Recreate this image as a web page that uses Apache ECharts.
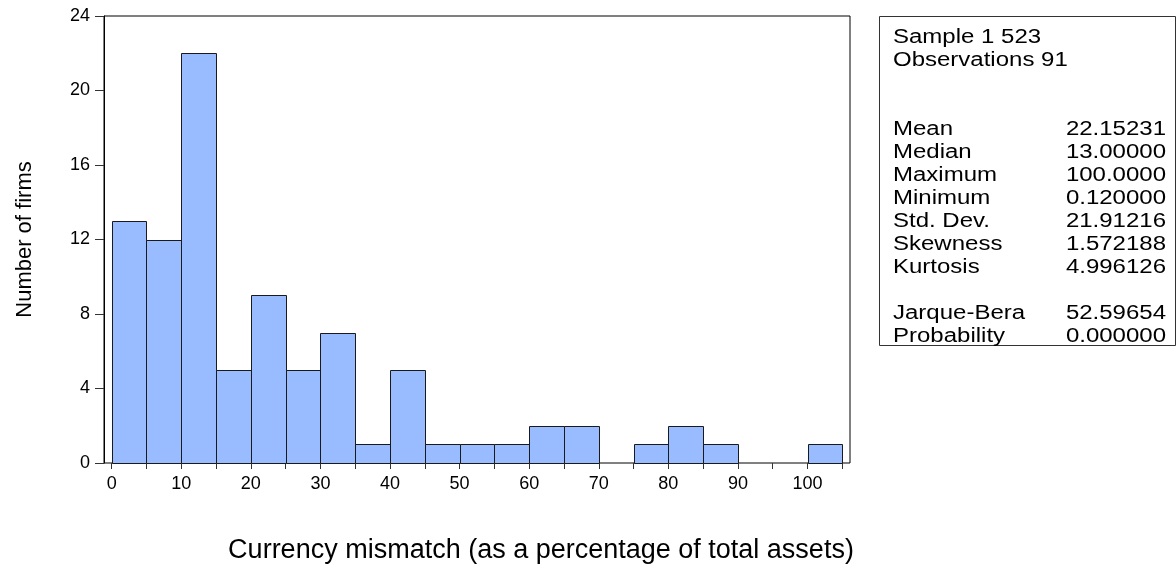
<!DOCTYPE html>
<html>
<head>
<meta charset="utf-8">
<script src="https://cdn.jsdelivr.net/npm/echarts@6/dist/echarts.min.js"></script>
<style>
html,body{margin:0;padding:0;background:#fff;}
#chart{width:1176px;height:571px;}
</style>
</head>
<body>
<div id="chart"></div>
<script>
// ---- data ----
const binStarts = [0,5,10,15,20,25,30,35,40,45,50,55,60,65,70,75,80,85,90,95,100];
const binWidth = 5;
const counts = [13,12,22,5,9,5,7,1,5,1,1,1,2,2,0,1,2,1,0,0,1];
const yTicks = [0,4,8,12,16,20,24];
const xLabelTicks = [0,10,20,30,40,50,60,70,80,90,100];
const headerLines = ['Sample 1 523', 'Observations 91'];
const statLabels = ['Mean','Median','Maximum','Minimum','Std. Dev.','Skewness','Kurtosis'];
const statValues = ['22.15231','13.00000','100.0000','0.120000','21.91216','1.572188','4.996126'];
const testLabels = ['Jarque-Bera','Probability'];
const testValues = ['52.59654','0.000000'];
const xTitle = 'Currency mismatch (as a percentage of total assets)';
const yTitle = 'Number of firms';

const histData = binStarts.map((s, i) => [s, s + binWidth, counts[i]]).filter(d => d[2] > 0);

const FONT = 'Liberation Sans, Arial, sans-serif';
const SX = 1.2;
const FS = 20;

const graphics = [];
graphics.push({type:'rect', left:879, top:16, shape:{width:296, height:329},
  style:{fill:'#fff', stroke:'#333', lineWidth:1}, z:1});
function addText(str, x, y, align){
  graphics.push({type:'text', x:x, y:y, scaleX:SX, scaleY:1, z:2,
    style:{text:str, fill:'#000', font: FS + 'px ' + FONT, textAlign:align, textVerticalAlign:'middle'}});
}
const LX = 893, RX = 1166, LH = 23, Y0 = 37;
headerLines.forEach((t,i) => addText(t, LX, Y0 + i*LH, 'left'));
statLabels.forEach((t,i) => { addText(t, LX, Y0 + (4+i)*LH, 'left'); addText(statValues[i], RX, Y0 + (4+i)*LH, 'right'); });
testLabels.forEach((t,i) => { addText(t, LX, Y0 + (12+i)*LH, 'left'); addText(testValues[i], RX, Y0 + (12+i)*LH, 'right'); });
graphics.push({type:'text', x:541, y:551, z:2,
  style:{text:xTitle, fill:'#000', font:'27px ' + FONT, textAlign:'center', textVerticalAlign:'middle'}});

const chart = echarts.init(document.getElementById('chart'), null, {renderer:'canvas'});
chart.setOption({
  animation:false,
  backgroundColor:'#fff',
  textStyle:{fontFamily:FONT},
  grid:[
    {left:104, right:326, top:16, bottom:108, show:true, borderColor:'#000', borderWidth:1, backgroundColor:'transparent'},
    {left:111.7, right:333.7, top:16, bottom:108}
  ],
  xAxis:[
    {gridIndex:0, type:'value', min:0, max:1, show:false},
    {gridIndex:1, type:'value', min:0, max:105, interval:5,
     axisLine:{show:false},
     axisTick:{show:true, length:6, inside:false, lineStyle:{color:'#333', width:1}},
     axisLabel:{fontSize:18, color:'#000', margin:12, fontFamily:FONT,
       formatter: v => xLabelTicks.indexOf(v) >= 0 ? String(v) : ''},
     splitLine:{show:false}}
  ],
  yAxis:[
    {gridIndex:0, type:'value', min:yTicks[0], max:yTicks[yTicks.length-1], interval:4,
     axisLine:{show:true, lineStyle:{color:'#000', width:1}},
     axisTick:{show:true, length:9, inside:false, lineStyle:{color:'#333'}},
     axisLabel:{fontSize:18, color:'#000', margin:14, fontFamily:FONT},
     splitLine:{show:false},
     name:yTitle, nameLocation:'middle', nameGap:68, nameRotate:90,
     nameTextStyle:{fontSize:22, color:'#000', fontFamily:FONT}},
    {gridIndex:1, type:'value', min:0, max:24, show:false}
  ],
  series:[{
    type:'custom', xAxisIndex:1, yAxisIndex:1,
    data: histData,
    renderItem: function(params, api){
      const p0 = api.coord([api.value(0), 0]);
      const p1 = api.coord([api.value(1), api.value(2)]);
      return {type:'rect',
        shape:{x:Math.round(p0[0])+0.5, y:Math.round(p1[1])+0.5, width:Math.round(p1[0])-Math.round(p0[0]), height:Math.round(p0[1])-Math.round(p1[1])},
        style:{fill:'#99bbff', stroke:'#1a1a1a', lineWidth:1}};
    }
  }],
  graphic: graphics
});
</script>
</body>
</html>
